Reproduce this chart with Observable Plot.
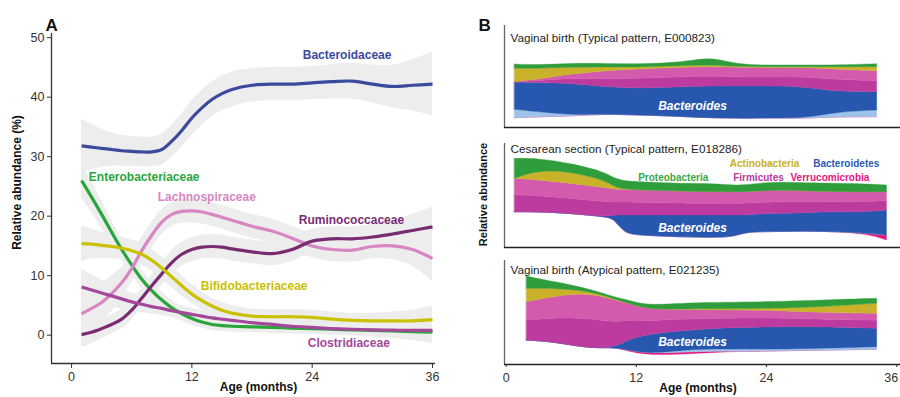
<!DOCTYPE html>
<html><head><meta charset="utf-8">
<script src="https://cdn.jsdelivr.net/npm/d3@7"></script>
<script src="https://cdn.jsdelivr.net/npm/@observablehq/plot@0.6"></script>
<style>
body{margin:0;background:#fff}
#fig{position:relative;width:900px;height:397px;overflow:hidden;background:#fff}
#fig svg{position:absolute;overflow:visible}
</style></head><body><div id="fig"></div>
<script>
const FONT = '"Liberation Sans", Arial, Helvetica, sans-serif';

// ---------- Panel A data ----------
const ageA = [1,2,3,4,5,6,7,8,9,10,11,12,13,14,15,16,18,20,22,24,26,28,30,32,34,36];
const families = ["Bacteroidaceae","Enterobacteriaceae","Lachnospiraceae","Ruminococcaceae","Bifidobacteriaceae","Clostridiaceae"];
const familyColors = ["#3b4a9c","#2aa53b","#d886c2","#7a2c72","#c9c000","#a3489b"];
const bacteroidaceae   = [31.8,31.6,31.4,31.2,31.0,30.9,30.8,30.8,31.2,32.6,34.4,36.5,38.2,39.6,40.6,41.3,42.0,42.2,42.2,42.4,42.6,42.7,42.2,41.8,42.0,42.2];
const enterobacteriaceae = [26.0,23.2,20.3,17.3,14.4,11.8,9.4,7.5,5.9,4.6,3.6,2.8,2.2,1.8,1.6,1.5,1.4,1.3,1.2,1.1,1.0,0.9,0.8,0.7,0.6,0.5];
const lachnospiraceae  = [3.6,4.5,5.5,7.0,8.8,11.2,14.2,16.8,19.0,20.3,20.8,20.9,20.7,20.3,19.8,19.3,18.3,17.5,16.3,15.0,14.4,14.3,14.9,15.0,14.4,12.9];
const ruminococcaceae  = [0.1,0.5,1.1,1.8,2.7,4.2,6.2,8.3,10.3,12.2,13.6,14.4,14.8,14.9,14.8,14.5,14.0,13.7,14.4,15.8,16.2,16.2,16.5,17.0,17.6,18.2];
const bifidobacteriaceae = [15.4,15.3,15.1,14.9,14.6,14.2,13.6,12.6,11.3,9.8,8.3,6.9,5.8,4.9,4.2,3.7,3.2,3.1,3.1,3.0,2.7,2.5,2.4,2.4,2.4,2.6];
const clostridiaceae   = [8.1,7.6,7.1,6.6,6.1,5.6,5.2,4.8,4.5,4.1,3.8,3.5,3.2,2.9,2.7,2.5,2.1,1.8,1.5,1.3,1.1,1.0,0.9,0.85,0.8,0.8];
// half-widths of the grey confidence bands
const bacteroidaceaeCI = [4.5,3.8,3.2,2.8,2.6,2.5,2.5,2.5,2.6,2.7,2.8,2.9,2.9,2.9,2.9,2.9,2.8,2.8,2.8,2.8,2.9,3.0,3.2,3.6,4.3,5.4];
const enterobacteriaceaeCI = [3.0,2.6,2.3,2.0,1.8,1.7,1.6,1.5,1.4,1.3,1.2,1.1,1.0,1.0,1.0,1.0,1.0,1.0,1.0,1.0,1.0,1.0,1.1,1.2,1.4,1.7];
const lachnospiraceaeCI = [5.0,4.2,3.4,3.0,2.6,2.4,2.3,2.2,2.1,2.0,2.0,2.0,2.0,2.0,2.0,2.0,2.0,2.0,2.0,2.0,2.0,2.0,2.1,2.3,2.8,3.8];
const ruminococcaceaeCI = [2.2,1.9,1.7,1.6,1.6,1.6,1.7,1.8,1.9,2.0,2.0,2.0,2.0,2.0,2.0,2.0,2.0,2.0,2.0,2.0,2.0,2.0,2.1,2.3,2.7,3.3];
const bifidobacteriaceaeCI = [3.0,2.5,2.2,2.0,1.9,1.8,1.8,1.8,1.8,1.8,1.7,1.6,1.5,1.4,1.3,1.3,1.2,1.2,1.2,1.2,1.2,1.2,1.3,1.5,1.8,2.3];
const clostridiaceaeCI = [3.0,2.6,2.2,1.9,1.7,1.5,1.4,1.3,1.2,1.1,1.1,1.0,1.0,1.0,1.0,1.0,1.0,1.0,1.0,1.0,1.0,1.1,1.2,1.4,1.7,2.2];
// label anchors (age in months, abundance %)
const labelMonth = [23.06, 1.72, 8.6, 22.66, 12.89, 23.56];
const labelValue = [47.05, 26.55, 23.24, 19.33, 8.32, -1.34];

// ---------- Panel B data ----------
const layers = ["gap","Verrucomicrobia","Bacteroidetes (other)","Bacteroides","Firmicutes A","Firmicutes B","Actinobacteria","Proteobacteria"];
const layerColors = ["#ffffff","#e2197f","#9dc3ea","#2757ae","#bd3b9e","#d35aac","#c9b22a","#2f9d3c"];

const ageB1 = [0.8,3,6,9.1,12.2,15.3,17,18.8,20.5,22.5,24.5,27.6,30.6,34.2];
const b1 = {
  "gap":                   [9.3,10.3,11,13,12,11,10,9.3,9,8.7,9.3,8.7,10.3,10.3],
  "Verrucomicrobia":       [0,0,0,0,0,0,0,0,0,0,0,0,0,0],
  "Bacteroidetes (other)": [8.4,5,1,0,0,0,0,0,0,0,0,0,5,6.7],
  "Bacteroides":           [27,29,31.7,27.3,26.7,28.7,30.5,31.7,32,32.3,31.7,31.6,20,18.3],
  "Firmicutes A":          [0.6,2,5,8,10,10,10,10,9.5,9,9,10,12,11],
  "Firmicutes B":          [0,1.4,4.3,8,9.3,9.6,9.5,9.3,9.5,9.7,9.3,9.3,10.4,10],
  "Actinobacteria":        [13.4,11,6.7,4,1.7,1.7,1.7,1.5,1,0.6,1,0.7,2.6,4],
  "Proteobacteria":        [4.3,3.3,4,3.4,3.3,3.3,4.5,7.7,4,1.7,1.7,1.7,1.7,3]
};
const ageB2 = [0.8,3,6,9.1,10,10.9,12.3,15.4,18.4,20.9,22.1,24.5,27.6,30.6,33.4,35.1];
const b2 = {
  "gap":                   [35.3,35.3,33.7,30.3,28.7,13.7,12,10.3,9.7,9.7,15.3,15.3,16,15.3,13,7],
  "Verrucomicrobia":       [0,0,0,0,0,0,0,0,0,0,0,0,0,0,0.7,5],
  "Bacteroidetes (other)": [0,0,0,0,0,0,0,0,0,0,0,0,0,0,0,0],
  "Bacteroides":           [0,0,0,0,3.3,18.3,20,21.7,22.3,22.3,16.7,18.4,18.3,20,21.6,25],
  "Firmicutes A":          [17,16,15,15,13,13,12.5,12,11.7,11.7,11.7,11.7,11,10,10,9.3],
  "Firmicutes B":          [16.4,15.7,15,14.4,12.7,13,12.5,12.3,11.6,11.6,11.6,11.6,11,10,10,9],
  "Actinobacteria":        [0,10,11.6,7.3,2.6,0,0,0,0,0,0,0,0,0,0,0],
  "Proteobacteria":        [20,11.7,8.4,8.3,8.4,8.3,8.3,7.4,8.4,6.7,6.7,8.3,8,8.4,7.7,6.7]
};
const ageB3 = [1.9,4.5,7.6,10.1,11.2,12.3,13.8,16.9,20,24.6,29.2,34.2];
const b3 = {
  "gap":                   [24,22.3,15.7,16.7,13,10.7,9,10,12.3,13,14,14.7],
  "Verrucomicrobia":       [0,0,0,0,1,1.6,1.7,2.3,0.5,0,0,0],
  "Bacteroidetes (other)": [0,0,0,0,0,0,0,2.4,2.4,1.7,1.7,2.6],
  "Bacteroides":           [0,0,0,0,10,15,20,19.3,21,22.6,21.6,18.4],
  "Firmicutes A":          [20,24,30,25,20,16,13,11,9.5,9,7.5,8],
  "Firmicutes B":          [18.3,21.7,25.6,22.3,17,14,11,9.7,8.1,7.7,6.5,7],
  "Actinobacteria":        [13.4,7.7,2,0.7,0.3,0,0,0.5,1.4,1.7,6,10],
  "Proteobacteria":        [12.3,6.6,2.4,2,3,3.4,4.3,6,6.6,6.6,6.7,5]
};
const phylaLegend = ["Actinobacteria","Bacteroidetes","Proteobacteria","Firmicutes","Verrucomicrobia"];
const phylaLegendColors = ["#c9b020","#2e5cb0","#3aa845","#b53ba0","#e2187c"];
const panelTitles = ["Vaginal birth (Typical pattern, E000823)","Cesarean section (Typical pattern, E018286)","Vaginal birth (Atypical pattern, E021235)"];
const ageTicks = [0,12,24,36];

// ---------- build tables ----------
const seriesA = [bacteroidaceae,enterobacteriaceae,lachnospiraceae,ruminococcaceae,bifidobacteriaceae,clostridiaceae];
const ciA = [bacteroidaceaeCI,enterobacteriaceaeCI,lachnospiraceaeCI,ruminococcaceaeCI,bifidobacteriaceaeCI,clostridiaceaeCI];
const rowsA = families.flatMap((f,i)=>ageA.map((m,j)=>({family:f, month:m, value:seriesA[i][j], ci:ciA[i][j]})));
const labelsA = families.map((f,i)=>({family:f, month:labelMonth[i], value:labelValue[i]}));
const streamRows = (ages, s) => layers.flatMap(l => ages.map((m,j)=>({layer:l, month:m, value:s[l][j]})));

const fig = document.getElementById("fig");
const place = (svg, left, top) => { svg.style.left = left+"px"; svg.style.top = top+"px"; fig.appendChild(svg); };
const baseStyle = {fontFamily:FONT, fontSize:"12.5px", color:"#333", background:"transparent"};

// ---------- Panel A ----------
const plotA = Plot.plot({
  width:450, height:397, marginLeft:51, marginRight:15, marginTop:33, marginBottom:34,
  style: baseStyle,
  x:{domain:[-2,36.3]}, y:{domain:[-4.76,50.7]},
  color:{domain:families, range:familyColors},
  marks:[
    Plot.areaY(rowsA,{x:"month", y1:d=>d.value-d.ci, y2:d=>d.value+d.ci, z:"family", fill:"#ededed", curve:"catmull-rom"}),
    Plot.lineY(rowsA,{x:"month", y:"value", z:"family", stroke:"family", strokeWidth:3.2, curve:"catmull-rom", strokeLinecap:"butt"}),
    Plot.text(labelsA,{x:"month", y:"value", text:"family", fill:"family", fontWeight:"bold", fontSize:12, textAnchor:"start", fontFamily:FONT}),
    Plot.ruleX([-2],{y1:-4.76, y2:50.7, stroke:"#333", strokeWidth:1.3}),
    Plot.ruleY([-4.76],{stroke:"#333", strokeWidth:1.3}),
    Plot.axisX({ticks:ageTicks, tickSize:5, tickPadding:4, label:null}),
    Plot.axisY({ticks:[0,10,20,30,40,50], tickSize:4, tickPadding:3, label:null}),
    Plot.text(["Relative abundance (%)"],{frameAnchor:"left", text:d=>d, rotate:-90, textAnchor:"middle", dx:-34, dy:-16, fontWeight:"bold", fontSize:12, fill:"#111"}),
    Plot.text(["Age (months)"],{frameAnchor:"bottom", text:d=>d, textAnchor:"middle", dx:15, dy:27, fontWeight:"bold", fontSize:12, fill:"#111"}),
    Plot.text(["A"],{frameAnchor:"top-left", text:d=>d, dx:-6, dy:-15, fontWeight:"bold", fontSize:17, textAnchor:"start", fill:"#111"})
  ]
});
place(plotA, 0, 0);

// ---------- Panel B ----------
function streamPlot(opts){
  const H = opts.height - opts.marginTop - opts.marginBottom;
  const marks = [
    Plot.areaY(opts.rows, Plot.stackY({order:layers}, {x:"month", y:"value", z:"layer", fill:"layer", stroke:"layer", strokeWidth:0.4, curve:"basis"})),
    Plot.ruleX([-0.15],{stroke:"#666", strokeWidth:1.3}),
    Plot.ruleY([0],{stroke:"#222", strokeWidth:1.3}),
    Plot.text([opts.title],{frameAnchor:"top-left", text:d=>d, dx:6, dy:opts.titleDy, textAnchor:"start", fontSize:11.7, fill:"#222"}),
    Plot.text(["Bacteroides"],{frameAnchor:"top-left", text:d=>d, dx:188, dy:opts.bactDy, textAnchor:"middle", fontSize:12, fontWeight:"bold", fontStyle:"italic", fill:"#fff"}),
    ...(opts.extra || [])
  ];
  return Plot.plot({
    width:450, height:opts.height, marginLeft:54, marginRight:0, marginTop:opts.marginTop, marginBottom:opts.marginBottom,
    style: baseStyle,
    x:{domain:[-0.15,36.35], axis:null}, y:{domain:[0,H], axis:null},
    color:{domain:layers, range:layerColors},
    marks
  });
}

const plotB1 = streamPlot({rows:streamRows(ageB1,b1), height:130, marginTop:25, marginBottom:3, title:panelTitles[0], titleDy:8.5, bactDy:76.3,
  extra:[Plot.text(["B"],{frameAnchor:"top-left", text:d=>d, dx:-26, dy:-7, fontWeight:"bold", fontSize:17, textAnchor:"start", fill:"#111"})]});
place(plotB1, 450, 0);

const legendDx = [225.3, 308.7, 133.7, 228.7, 286];
const legendDy = [16.5, 16.5, 30, 30, 30];
const plotB2 = streamPlot({rows:streamRows(ageB2,b2), height:125, marginTop:13, marginBottom:8, title:panelTitles[1], titleDy:1, bactDy:80,
  extra:[
    ...phylaLegend.map((p,i)=>Plot.text([p],{frameAnchor:"top-left", text:d=>d, dx:legendDx[i], dy:legendDy[i], textAnchor:"start", fontSize:10, fontWeight:"bold", fill:phylaLegendColors[i]})),
    Plot.text(["Relative abundance"],{frameAnchor:"left", text:d=>d, rotate:-90, textAnchor:"middle", dx:-21, dy:-1, fontWeight:"bold", fontSize:11, fill:"#111"})
  ]});
place(plotB2, 450, 130);

const lastTick = ageTicks[ageTicks.length-1];
const plotB3 = streamPlot({rows:streamRows(ageB3,b3), height:142, marginTop:5, marginBottom:33, title:panelTitles[2], titleDy:5, bactDy:76.7,
  extra:[
    Plot.axisX({ticks:ageTicks, tickSize:3, tickPadding:6, label:null, tickFormat:d => d === lastTick ? "" : String(d)}),
    Plot.text([lastTick],{x:d=>d, frameAnchor:"bottom", text:d=>String(d), textAnchor:"end", lineAnchor:"top", dx:1.5, dy:9}),
    Plot.text(["Age (months)"],{frameAnchor:"bottom", text:d=>d, textAnchor:"middle", dx:-4.5, dy:27, fontWeight:"bold", fontSize:12, fill:"#111"})
  ]});
place(plotB3, 450, 255);
</script></body></html>
